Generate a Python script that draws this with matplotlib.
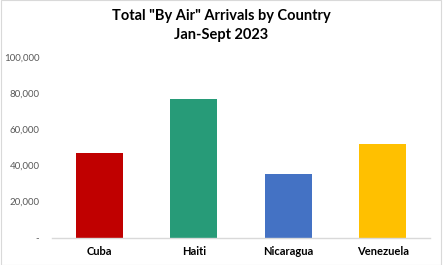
import matplotlib.pyplot as plt
from matplotlib.patches import Rectangle
from matplotlib.ticker import FuncFormatter

plt.rcParams['font.family'] = ['Lato', 'DejaVu Sans']

countries = ['Cuba', 'Haiti', 'Nicaragua', 'Venezuela']
arrivals = [46750, 76600, 34950, 51700]
colors = ['#C00000', '#279B78', '#4472C4', '#FFC000']
yticks = [0, 20000, 40000, 60000, 80000, 100000]

fig = plt.figure(figsize=(4.43, 2.65), dpi=100)
ax = fig.add_axes([52 / 443, 27.5 / 265, 378 / 443, 180.8 / 265])

ax.bar(countries, arrivals, width=0.5, color=colors)
ax.set_xlim(-0.5, 3.5)
ax.set_ylim(0, 100000)
ax.set_yticks(yticks)
ax.yaxis.set_major_formatter(FuncFormatter(lambda v, p: '-' if v == 0 else f'{int(v):,}'))

for s in ['top', 'right', 'left']:
    ax.spines[s].set_visible(False)
ax.spines['bottom'].set_color('#D9D9D9')
ax.spines['bottom'].set_linewidth(1.0)
ax.tick_params(axis='y', length=0, pad=9, labelsize=7, labelcolor='#595959')
ax.tick_params(axis='x', length=0, pad=6, labelsize=8)
for lbl in ax.get_xticklabels():
    lbl.set_fontweight('bold')

fig.text(0.5, 1 - 25.5 / 265, 'Total "By Air" Arrivals by Country\nJan-Sept 2023',
         ha='center', va='center', fontsize=10.5, fontweight='bold', linespacing=1.5)

# chart border
fig.patches.append(Rectangle((1 / 443, 0), 440 / 443, 1, transform=fig.transFigure,
                             fill=False, edgecolor='#D9D9D9', linewidth=0.8))

fig.savefig('out.png', dpi=100)
